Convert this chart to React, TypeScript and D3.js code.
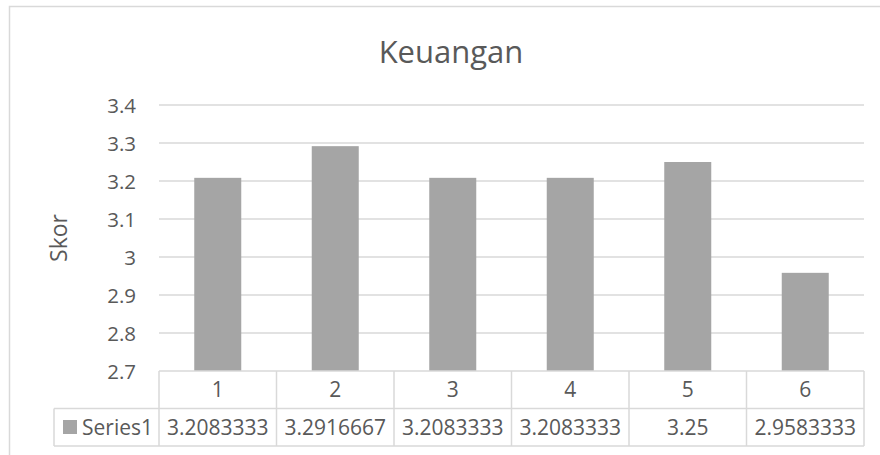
import React from "react";
import * as d3 from "d3";

const chartTitle = "Keuangan";
const axisTitle = "Skor";
const seriesName = "Series1";
const categories = ["1", "2", "3", "4", "5", "6"];
const values = [3.2083333, 3.2916667, 3.2083333, 3.2083333, 3.25, 2.9583333];
const valueLabels = ["3.2083333", "3.2916667", "3.2083333", "3.2083333", "3.25", "2.9583333"];
const yTicks = [2.7, 2.8, 2.9, 3.0, 3.1, 3.2, 3.3, 3.4];

const W = 880;
const H = 455;
const plot = { left: 159, right: 864, top: 105, bottom: 371 };
const rowH = 37.5;
const tableLeft = 54;
const FONT = "'Open Sans', 'Liberation Sans', sans-serif";
const TEXT = "#595959";
const LINE = "#d9d9d9";
const BAR = "#a5a5a5";

const App = () => {
  const x = d3
    .scaleBand<string>()
    .domain(categories)
    .range([plot.left, plot.right])
    .paddingInner(0.6)
    .paddingOuter(0.3);

  const y = d3.scaleLinear().domain([2.7, 3.4]).range([plot.bottom, plot.top]);

  const step = x.step();
  const colEdges = categories.map((c) => (x(c) as number) - step * 0.3);
  colEdges.push(plot.right);

  const row1 = plot.bottom;
  const row2 = row1 + rowH;
  const row3 = row2 + rowH;

  return (
    <svg
      width={W}
      height={H}
      style={{ position: "absolute", left: 0, top: 0, fontFamily: FONT }}
    >
      <rect x={0} y={0} width={W} height={H} fill="#fff" />
      {/* chart border */}
      <rect x={9.5} y={6.5} width={900} height={470} fill="none" stroke={LINE} strokeWidth={1.5} />

      <text x={451} y={63} textAnchor="middle" fontSize={31} fill={TEXT}>
        {chartTitle}
      </text>

      <text
        transform={`translate(67, ${(plot.top + plot.bottom) / 2}) rotate(-90)`}
        textAnchor="middle"
        fontSize={23}
        fill={TEXT}
      >
        {axisTitle}
      </text>

      {/* gridlines + tick labels */}
      {yTicks.map((t) => (
        <g key={t}>
          {t > 2.7 && (
            <line x1={plot.left} x2={plot.right} y1={y(t)} y2={y(t)} stroke={LINE} strokeWidth={1.5} />
          )}
          <text x={136} y={y(t)} dy="0.38em" textAnchor="end" fontSize={20.5} fill={TEXT}>
            {d3.format("~g")(t)}
          </text>
        </g>
      ))}

      {/* bars */}
      {values.map((v, i) => (
        <rect
          key={i}
          x={x(categories[i])}
          y={y(v)}
          width={x.bandwidth()}
          height={y(2.7) - y(v)}
          fill={BAR}
        />
      ))}

      {/* data table */}
      <g stroke={LINE} strokeWidth={1.5} fill="none">
        <line x1={plot.left} x2={plot.right} y1={row1} y2={row1} />
        <line x1={tableLeft} x2={plot.right} y1={row2} y2={row2} />
        <line x1={tableLeft} x2={plot.right} y1={row3} y2={row3} />
        <line x1={tableLeft} x2={tableLeft} y1={row2} y2={row3} />
        {colEdges.map((e, i) => (
          <line key={i} x1={e} x2={e} y1={row1} y2={row3} />
        ))}
      </g>
      {categories.map((c) => (
        <text
          key={c}
          x={(x(c) as number) + x.bandwidth() / 2}
          y={(row1 + row2) / 2}
          dy="0.36em"
          textAnchor="middle"
          fontSize={21}
          fill={TEXT}
        >
          {c}
        </text>
      ))}
      {valueLabels.map((l, i) => (
        <text
          key={i}
          x={(x(categories[i]) as number) + x.bandwidth() / 2}
          y={(row2 + row3) / 2}
          dy="0.36em"
          textAnchor="middle"
          fontSize={21}
          fill={TEXT}
        >
          {l}
        </text>
      ))}
      <rect x={63} y={420} width={14} height={14} fill={BAR} />
      <text x={82} y={(row2 + row3) / 2} dy="0.36em" fontSize={21} fill={TEXT}>
        {seriesName}
      </text>
    </svg>
  );
};

export default App;
